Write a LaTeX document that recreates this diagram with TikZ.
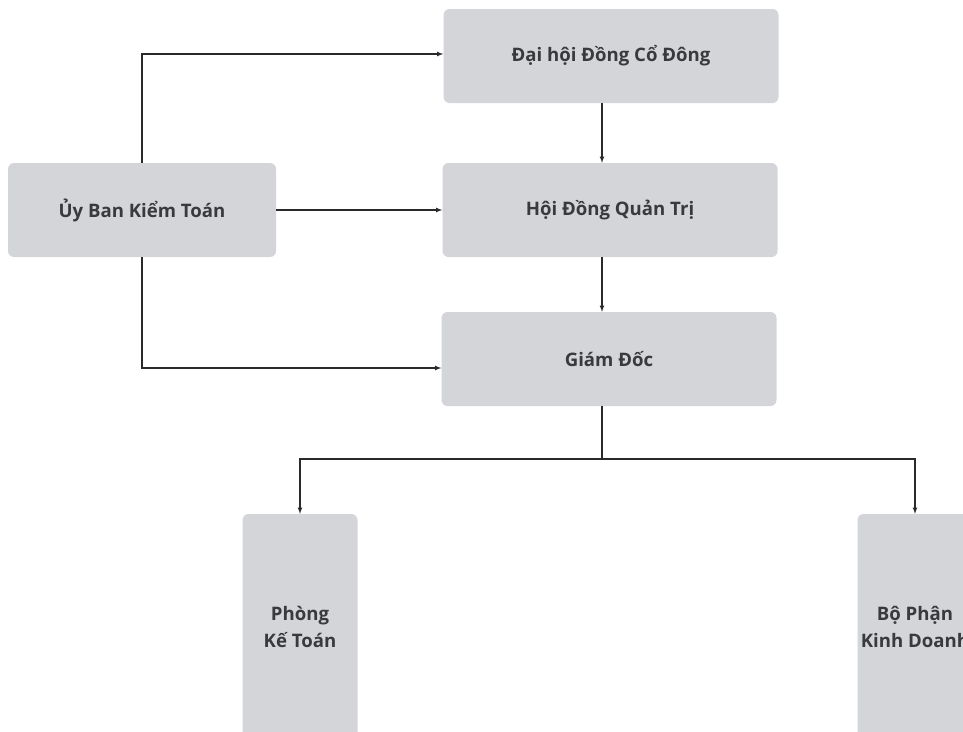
\documentclass[tikz,border=0pt]{standalone}
\usepackage{fontspec}
\setmainfont{Open Sans}
\usepackage{xcolor}
\definecolor{boxgray}{HTML}{D3D5D9}
\definecolor{textgray}{HTML}{383A3D}
\definecolor{linegray}{HTML}{2A2A2A}

\begin{document}
\begin{tikzpicture}[
  x=1pt,y=-1pt,>=latex,
  unit/.style={fill=boxgray,rounded corners=6pt,inner sep=0pt,align=center,
    text=textgray,font=\fontsize{18.6}{27}\selectfont\bfseries},
  wide/.style={unit,minimum width=335pt,minimum height=94pt},
  tall/.style={unit,minimum width=115pt,minimum height=226pt},
  link/.style={->,draw=linegray,line width=1.1pt}
]
\clip (0,0) rectangle (963,731);
\node[wide] (dhd) at (611,56) {Đại hội Đồng Cổ Đông};
\node[wide] (hdqt) at (610,210) {Hội Đồng Quản Trị};
\node[wide] (gd) at (609,359) {Giám Đốc};
\node[unit,minimum width=268pt,minimum height=94pt] (ubkt) at (142,210) {Ủy Ban Kiểm Toán};
\node[tall] (pkt) at (300,627) {Phòng\\Kế Toán};
\node[tall] (bpkd) at (915,627) {Bộ Phận\\Kinh Doanh};
\coordinate (split) at (602,459);
% main line
\draw[link] ([xshift=-9pt]dhd.south) -- ([xshift=-8pt]hdqt.north);
\draw[link] ([xshift=-8pt]hdqt.south) -- ([xshift=-7pt]gd.north);
% audit committee
\draw[link] (ubkt.north) |- ([yshift=2pt]dhd.west);
\draw[link] (ubkt.east) -- (hdqt.west);
\draw[link] (ubkt.south) |- ([yshift=-9pt]gd.west);
% departments
\draw[draw=linegray,line width=1.1pt] ([xshift=-7pt]gd.south) -- (split);
\foreach \d in {pkt,bpkd} {\draw[link] (split) -| (\d.north);}
\end{tikzpicture}
\end{document}
